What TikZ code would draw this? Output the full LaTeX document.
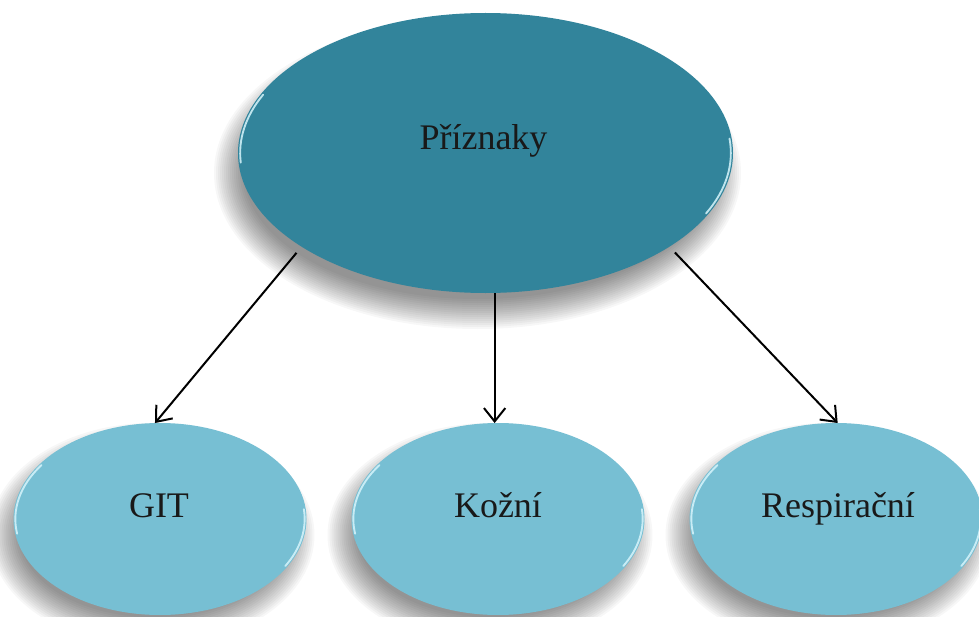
\documentclass[tikz,border=0pt]{standalone}
\usepackage{fontspec}
\setmainfont{Liberation Serif}
\usetikzlibrary{arrows.meta,shapes.geometric,calc}
\definecolor{topteal}{RGB}{50,132,155}
\definecolor{childblue}{RGB}{119,191,211}
\definecolor{rimcol}{RGB}{215,245,252}
\pgfdeclarelayer{back}
\pgfdeclarelayer{shade}
\pgfsetlayers{back,shade,main}
\begin{document}
\begin{tikzpicture}[x=0.75pt,y=-0.75pt,
  bubble/.style={ellipse,inner sep=0pt,outer sep=0pt,draw=none},
  topbubble/.style={bubble,fill=topteal,minimum width=371.25pt,minimum height=210pt},
  childbubble/.style={bubble,fill=childblue,minimum width=219.75pt,minimum height=144pt},
  lbl/.style={font=\fontsize{27}{32}\selectfont,text=black!90,inner sep=0pt,anchor=base},
  rim/.style={draw=rimcol,line width=1.4pt,line cap=round,opacity=0.85},
  softshade/.style={fill=black,fill opacity=0.03,draw=none},
  arr/.style={draw=black,line width=1.5pt,-{Straight Barb[length=10pt,width=16pt,line width=1.5pt]}}
]
\useasboundingbox (0,0) rectangle (979,617);
\begin{pgfonlayer}{back}
\fill[white] (0,0) rectangle (979,617);
\end{pgfonlayer}

\node[topbubble] (top) at (485.5,153) {};
\node[childbubble] (git) at (160,519) {};
\node[childbubble] (koz) at (498,519) {};
\node[childbubble] (resp) at (836,519) {};

% soft shadows
\begin{pgfonlayer}{shade}
\foreach \i in {0,...,15}{
  \fill[softshade] ($(top.center)+(-8,20)$) ellipse[x radius={(247.5-14+2*\i)*0.75pt},y radius={(140-14+2*\i)*0.75pt}];
  \foreach \n in {git,koz,resp}{
    \fill[softshade] ($(\n.center)+(-8,16)$) ellipse[x radius={(146.5-14+2*\i)*0.75pt},y radius={(96-14+2*\i)*0.75pt}];
  }
}
\end{pgfonlayer}

% glossy rims
\draw[rim] ([shift={(155:184pt and 103.5pt)}]top.center) arc[start angle=155,end angle=184,x radius=184pt,y radius=103.5pt];
\draw[rim] ([shift={(6:184pt and 103.5pt)}]top.center) arc[start angle=6,end angle=-26,x radius=184pt,y radius=103.5pt];
\foreach \n in {git,koz,resp}{
  \draw[rim] ([shift={(145:108.5pt and 70.5pt)}]\n.center) arc[start angle=145,end angle=189,x radius=108.5pt,y radius=70.5pt];
  \draw[rim] ([shift={(6:108.5pt and 70.5pt)}]\n.center) arc[start angle=6,end angle=-30,x radius=108.5pt,y radius=70.5pt];
}

\node[lbl] (tl) at ($(top.center)+(-2,-4)$) {Příznaky};
\node[lbl] (gl) at ($(git.center)+(-1,-2)$) {GIT};
\node[lbl] (kl) at ($(koz.center)+(0,-2)$) {Kožní};
\node[lbl] (rl) at ($(resp.center)+(2,-2)$) {Respirační};

\draw[arr,shorten <=6pt] (top.207) -- (git.93);
\draw[arr] (top.south -| koz.92) -- (koz.92);
\draw[arr,shorten <=6pt] (top.333) -- (resp.89);
\end{tikzpicture}
\end{document}
